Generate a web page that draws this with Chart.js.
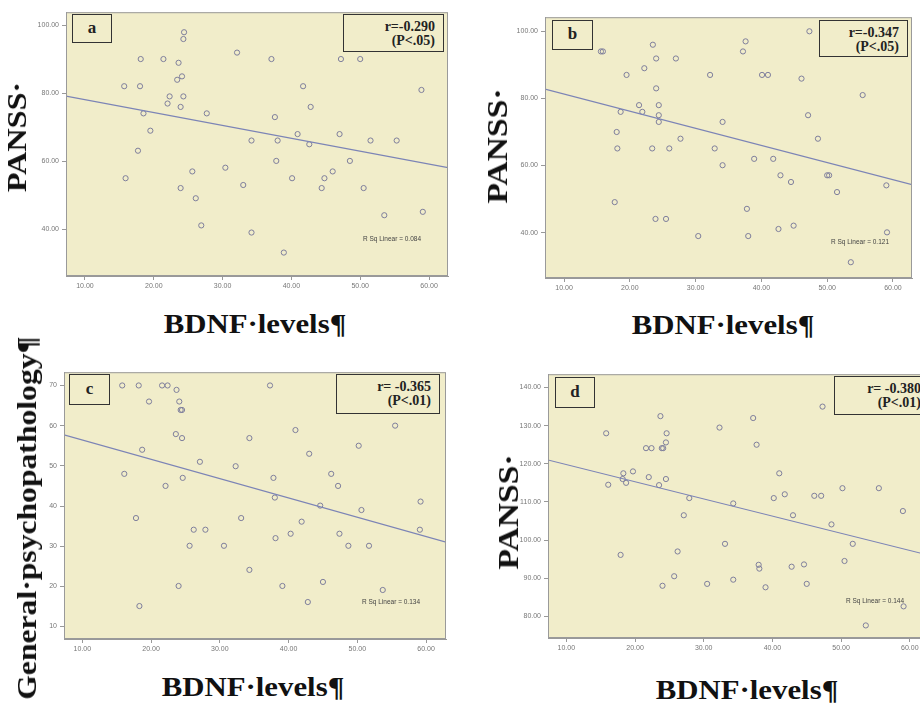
<!DOCTYPE html>
<html>
<head>
<meta charset="utf-8">
<script src="https://cdn.jsdelivr.net/npm/chart.js@4.4.1/dist/chart.umd.min.js"></script>
<style>
  html, body { margin: 0; background: #fff; }
  body { width: 920px; height: 705px; position: relative; overflow: hidden; }
  canvas { position: absolute; }
  .ttl { position: absolute; font-family: "Liberation Serif", "Times New Roman", serif; font-weight: bold; color: #111; white-space: nowrap; line-height: 1; }
  .box { position: absolute; box-sizing: border-box; border: 1.5px solid #333; background: #f1edca; font-family: "Liberation Serif", serif; color: #222; }
  .tag { font-weight: bold; font-size: 17px; text-align: center; }
  .rbox { font-weight: bold; font-size: 14px; text-align: right; line-height: 14px; }
  .rsq { position: absolute; font-family: "Liberation Sans", Arial, sans-serif; font-size: 6.5px; color: #444; white-space: nowrap; }
</style>
</head>
<body>
<script>
// BDNF levels (x) and scores (y)
const bdnfA = [24.4, 24.3, 32.1, 18.1, 21.4, 37.1, 47.2, 50.0, 23.6, 24.1, 23.4, 15.7, 18.0, 41.7, 58.9, 22.3, 24.3, 22.0, 23.9, 42.8, 18.5, 27.7, 37.6, 19.5, 40.9, 47.0, 34.2, 38.0, 51.5, 55.3, 42.6, 17.7, 37.8, 48.5, 30.4, 25.6, 46.0, 15.9, 40.1, 44.8, 33.0, 23.9, 44.4, 50.5, 26.1, 59.1, 53.5, 26.9, 34.2, 38.9];
const pansA = [98.0, 96.0, 92.0, 90.1, 90.1, 90.1, 90.1, 90.1, 89.0, 85.0, 84.0, 82.1, 82.1, 82.1, 81.0, 79.1, 79.1, 77.0, 76.0, 76.0, 74.1, 74.1, 73.0, 69.0, 68.0, 68.0, 66.1, 66.1, 66.1, 66.1, 65.0, 63.1, 60.1, 60.1, 58.1, 57.0, 57.0, 55.0, 55.0, 55.0, 53.0, 52.1, 52.1, 52.1, 49.1, 45.1, 44.1, 41.1, 39.0, 33.1];

const bdnfB = [47.3, 37.6, 23.5, 15.6, 15.9, 37.2, 24.0, 27.0, 22.2, 19.5, 32.2, 40.1, 41.0, 46.1, 24.0, 55.4, 21.4, 24.4, 18.6, 21.9, 24.4, 47.1, 24.4, 34.1, 18.0, 27.7, 48.6, 18.1, 23.4, 26.0, 32.9, 38.9, 41.8, 34.1, 42.9, 50.0, 50.3, 44.5, 59.0, 51.5, 17.7, 37.8, 23.9, 25.5, 44.9, 42.6, 59.1, 30.4, 38.0, 53.6];
const pansB = [100.0, 97.0, 96.0, 94.0, 94.0, 94.0, 91.9, 91.9, 89.0, 87.0, 87.0, 87.0, 87.0, 85.9, 83.0, 81.0, 78.0, 78.0, 76.0, 76.0, 75.0, 75.0, 73.0, 73.0, 70.0, 68.0, 68.0, 65.1, 65.1, 65.1, 65.1, 62.0, 62.0, 60.1, 57.1, 57.1, 57.1, 55.1, 54.1, 52.1, 49.1, 47.1, 44.1, 44.1, 42.1, 41.1, 40.1, 39.0, 39.0, 31.2];

const bdnfC = [15.8, 18.2, 21.6, 22.4, 37.3, 23.7, 19.7, 24.1, 24.3, 24.5, 55.5, 23.6, 24.5, 34.3, 41.0, 50.2, 18.7, 43.0, 27.1, 32.3, 16.1, 24.6, 37.8, 46.2, 22.1, 47.2, 38.0, 59.2, 44.6, 50.6, 17.8, 33.1, 41.9, 26.2, 27.9, 59.1, 40.3, 47.4, 38.1, 25.6, 30.6, 48.7, 51.7, 34.3, 45.0, 24.0, 39.1, 53.7, 42.8, 18.3];
const gpC = [70.0, 70.0, 70.0, 70.0, 70.0, 68.9, 66.0, 66.0, 63.9, 63.9, 60.0, 57.9, 56.9, 56.9, 58.9, 55.0, 54.0, 53.0, 51.0, 49.9, 48.0, 47.0, 47.0, 48.0, 45.0, 45.0, 42.1, 41.1, 40.1, 39.0, 37.0, 37.0, 36.1, 34.1, 34.1, 34.1, 33.1, 33.1, 32.0, 30.1, 30.1, 30.1, 30.1, 24.1, 21.1, 20.1, 20.1, 19.1, 16.1, 15.1];

const bdnfD = [47.3, 23.7, 37.2, 32.3, 15.8, 24.6, 24.5, 37.7, 21.6, 22.4, 23.9, 24.1, 19.7, 18.3, 41.0, 22.0, 18.2, 24.5, 18.7, 16.1, 23.5, 50.2, 55.5, 41.8, 27.9, 40.2, 46.1, 47.1, 34.3, 59.0, 27.1, 43.0, 48.6, 33.1, 51.7, 26.2, 17.9, 50.5, 38.0, 38.1, 42.8, 44.6, 25.7, 34.3, 30.5, 45.0, 24.0, 39.0, 59.1, 53.6];
const pansD = [135.0, 132.5, 132.0, 129.5, 128.0, 128.0, 125.6, 125.0, 124.1, 124.1, 124.1, 124.1, 118.0, 117.5, 117.5, 116.5, 116.0, 116.0, 115.0, 114.5, 114.4, 113.6, 113.6, 112.0, 111.0, 111.0, 111.6, 111.6, 109.6, 107.6, 106.5, 106.5, 104.1, 99.0, 99.0, 97.0, 96.1, 94.5, 93.5, 92.5, 93.0, 93.6, 90.5, 89.6, 88.5, 88.5, 88.0, 87.6, 82.6, 77.6];

// fitted line, value at the left and right edge of each plot
const fitA = [79.2, 58.1];
const fitB = [82.8, 54.3];
const fitC = [57.7, 31.0];
const fitD = [121.0, 96.0];

const xTicks = [10, 20, 30, 40, 50, 60];
const yTicksA = [40, 60, 80, 100];
const yTicksB = [40, 60, 80, 100];
const yTicksC = [10, 20, 30, 40, 50, 60, 70];
const yTicksD = [80, 90, 100, 110, 120, 130, 140];

const tagLabels = ["a", "b", "c", "d"];
const rLabels = ["r=-0.290", "r=-0.347", "r= -0.365", "r= -0.380"];
const pLabels = ["(P<.05)", "(P<.05)", "(P<.01)", "(P<.01)"];
const rsqLabels = ["R Sq Linear = 0.084", "R Sq Linear = 0.121", "R Sq Linear = 0.134", "R Sq Linear = 0.144"];

const BG = "#f1edca";

const panels = [
  { xs: bdnfA, ys: pansA, fit: fitA, yt: yTicksA, fmt: (v) => v.toFixed(2),
    area: { L: 66, T: 10, R: 448, B: 276 }, x: [7.24, 62.76], y: [26.2, 103.9],
    tag: [72, 14, 40, 29], r: [343, 14, 101, 38], rsq: [363, 239] },
  { xs: bdnfB, ys: pansB, fit: fitB, yt: yTicksB, fmt: (v) => v.toFixed(2),
    area: { L: 545, T: 15, R: 912, B: 278 }, x: [7.1, 62.9], y: [26.5, 104.2],
    tag: [552, 20, 41, 30], r: [819, 20, 89, 37], rsq: [831, 242] },
  { xs: bdnfC, ys: gpC, fit: fitC, yt: yTicksC, fmt: (v) => String(v),
    area: { L: 64, T: 370, R: 446, B: 639 }, x: [7.33, 62.9], y: [6.9, 73.3],
    tag: [69, 374, 41, 31], r: [336, 374, 104, 40], rsq: [362, 602] },
  { xs: bdnfD, ys: pansD, fit: fitD, yt: yTicksD, fmt: (v) => v.toFixed(2),
    area: { L: 548, T: 372, R: 929, B: 638 }, x: [7.33, 62.8], y: [74.3, 143.5],
    tag: [555, 377, 40, 31], r: [834, 376, 96, 39], rsq: [846, 601] },
];

// axis titles: text, centre x, centre y, font size, rotated?, stretch along the text
const titles = [
  ["PANSS·", 17, 137, 28, true, 1.15],
  ["PANSS·", 497, 146, 30, true, 1.12],
  ["General·psychopathology¶", 27, 518, 28, true, 1.13],
  ["PANSS·", 508, 512, 30, true, 1.12],
  ["BDNF·levels¶", 255, 324, 28, false, 1.1],
  ["BDNF·levels¶", 723, 325, 28, false, 1.1],
  ["BDNF·levels¶", 253, 687, 28, false, 1.1],
  ["BDNF·levels¶", 747, 690, 28, false, 1.1],
];

const framePlugin = {
  id: "frame",
  beforeDraw(chart) {
    const { ctx, chartArea: a } = chart;
    ctx.save();
    ctx.fillStyle = BG;
    ctx.fillRect(a.left, a.top, a.width, a.height);
    ctx.restore();
  },
  afterDraw(chart) {
    const { ctx, chartArea: a } = chart;
    ctx.save();
    ctx.strokeStyle = "#9a9a9a";
    ctx.lineWidth = 1;
    ctx.strokeRect(a.left + 0.5, a.top + 0.5, a.width - 1, a.height - 1);
    ctx.restore();
  },
};

const tickFont = { family: "Liberation Sans, Arial, sans-serif", size: 7 };

panels.forEach((p, i) => {
  const a = p.area;
  const cv = document.createElement("canvas");
  const w = a.R - a.L + 45, h = a.B - a.T + 25;
  cv.width = w; cv.height = h;
  cv.style.left = (a.L - 40) + "px";
  cv.style.top = (a.T - 5) + "px";
  document.body.appendChild(cv);

  const pts = p.xs.map((x, k) => ({ x, y: p.ys[k] }));
  const line = [{ x: p.x[0], y: p.fit[0] }, { x: p.x[1], y: p.fit[1] }];

  new Chart(cv.getContext("2d"), {
    data: {
      datasets: [
        { type: "line", data: line, borderColor: "#7c84b6", borderWidth: 1.2, pointRadius: 0, fill: false },
        { type: "scatter", data: pts, pointRadius: 2.6, pointStyle: "circle",
          backgroundColor: "rgba(0,0,0,0)", borderColor: "#7f7f9c", borderWidth: 1 },
      ],
    },
    options: {
      responsive: false,
      animation: false,
      devicePixelRatio: 1,
      layout: { padding: { left: 0, top: 5, right: 5, bottom: 0 } },
      plugins: { legend: { display: false }, tooltip: { enabled: false } },
      scales: {
        x: {
          type: "linear", min: p.x[0], max: p.x[1],
          afterBuildTicks: (s) => { s.ticks = xTicks.map((v) => ({ value: v })); },
          afterFit: (s) => { s.height = 20; },
          ticks: { font: tickFont, color: "#777", padding: 2, callback: (v) => v.toFixed(2), maxRotation: 0 },
          grid: { drawOnChartArea: false, tickLength: 4, color: "#999" },
          border: { color: "#999" },
        },
        y: {
          type: "linear", min: p.y[0], max: p.y[1],
          afterBuildTicks: (s) => { s.ticks = p.yt.map((v) => ({ value: v })); },
          afterFit: (s) => { s.width = 40; },
          ticks: { font: tickFont, color: "#777", padding: 3, callback: p.fmt },
          grid: { drawOnChartArea: false, tickLength: 4, color: "#999" },
          border: { color: "#999" },
        },
      },
    },
    plugins: [framePlugin],
  });

  // panel letter
  const tg = document.createElement("div");
  tg.className = "box tag";
  Object.assign(tg.style, { left: p.tag[0] + "px", top: p.tag[1] + "px", width: p.tag[2] + "px", height: p.tag[3] + "px", lineHeight: (p.tag[3] - 4) + "px" });
  tg.textContent = tagLabels[i];
  document.body.appendChild(tg);

  // correlation box
  const rb = document.createElement("div");
  rb.className = "box rbox";
  Object.assign(rb.style, { left: p.r[0] + "px", top: p.r[1] + "px", width: p.r[2] + "px", height: p.r[3] + "px", padding: "5px 8px 0 0" });
  rb.innerHTML = rLabels[i] + "<br>" + pLabels[i];
  document.body.appendChild(rb);

  const rs = document.createElement("div");
  rs.className = "rsq";
  Object.assign(rs.style, { left: p.rsq[0] + "px", top: (p.rsq[1] - 4) + "px" });
  rs.textContent = rsqLabels[i];
  document.body.appendChild(rs);
});

titles.forEach(([txt, cx, cy, size, rot, sx]) => {
  const d = document.createElement("div");
  d.className = "ttl";
  d.textContent = txt;
  Object.assign(d.style, {
    left: cx + "px", top: cy + "px", fontSize: size + "px",
    transform: "translate(-50%,-50%)" + (rot ? " rotate(-90deg)" : "") + " scaleX(" + sx + ")",
  });
  document.body.appendChild(d);
});
</script>
</body>
</html>
